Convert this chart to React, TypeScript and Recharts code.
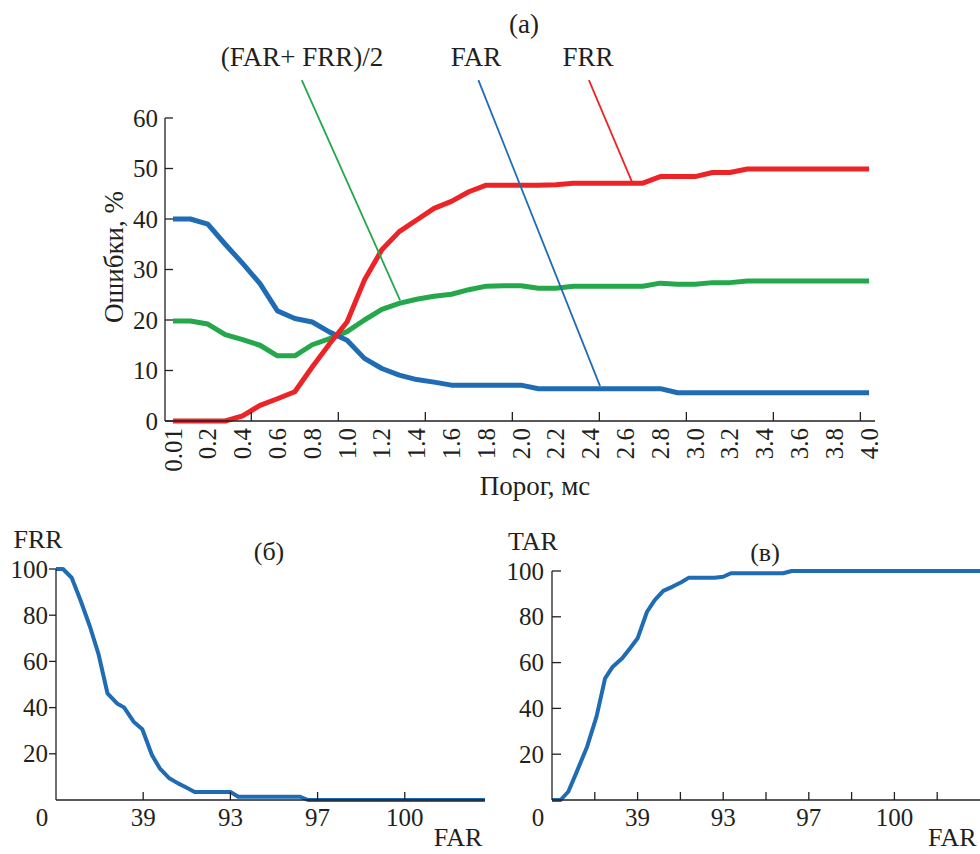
import { LineChart, Line, XAxis, YAxis, ReferenceLine } from "recharts";

// ---- (a) errors vs threshold ----
const thresholds = [
  0, 0.1, 0.2, 0.3, 0.4, 0.5, 0.6, 0.7, 0.8, 0.9, 1.0, 1.1, 1.2, 1.3, 1.4, 1.5, 1.6, 1.7, 1.8, 1.9, 2.0,
  2.1, 2.2, 2.3, 2.4, 2.5, 2.6, 2.7, 2.8, 2.9, 3.0, 3.1, 3.2, 3.3, 3.4, 3.5, 3.6, 3.7, 3.8, 3.9, 4.0,
];
const farValues = [
  40, 40, 39, 35, 31.2, 27.2, 21.8, 20.3, 19.6, 17.6, 16, 12.4, 10.4, 9.1, 8.2, 7.7, 7.1, 7.1, 7.1, 7.1, 7.1,
  6.4, 6.4, 6.4, 6.4, 6.4, 6.4, 6.4, 6.4, 5.6, 5.6, 5.6, 5.6, 5.6, 5.6, 5.6, 5.6, 5.6, 5.6, 5.6, 5.6,
];
const frrValues = [
  0, 0, 0, 0, 1.0, 3.1, 4.4, 5.8, 10.7, 15.3, 19.6, 27.9, 33.9, 37.5, 39.8, 42.1, 43.5, 45.4, 46.7, 46.7, 46.7,
  46.7, 46.8, 47.1, 47.1, 47.1, 47.1, 47.1, 48.4, 48.4, 48.4, 49.2, 49.2, 49.9, 49.9, 49.9, 49.9, 49.9, 49.9, 49.9, 49.9,
];
const halfSumValues = [
  19.8, 19.8, 19.2, 17.1, 16.1, 15, 12.9, 12.9, 15.1, 16.3, 17.7, 20, 22.1, 23.3, 24.1, 24.7, 25.1, 26, 26.7, 26.8, 26.8,
  26.3, 26.3, 26.7, 26.7, 26.7, 26.7, 26.7, 27.3, 27.1, 27.1, 27.4, 27.4, 27.7, 27.7, 27.7, 27.7, 27.7, 27.7, 27.7, 27.7,
];
const topXLabelValues = [0, 0.2, 0.4, 0.6, 0.8, 1.0, 1.2, 1.4, 1.6, 1.8, 2.0, 2.2, 2.4, 2.6, 2.8, 3.0, 3.2, 3.4, 3.6, 3.8, 4.0];
const topXLabels = ["0.01", "0.2", "0.4", "0.6", "0.8", "1.0", "1.2", "1.4", "1.6", "1.8", "2.0", "2.2", "2.4", "2.6", "2.8", "3.0", "3.2", "3.4", "3.6", "3.8", "4.0"];
const topXMarks = [0.45, 0.95, 1.45, 1.95, 2.45, 2.95, 3.45, 3.95];
const topYTicks = [0, 10, 20, 30, 40, 50, 60];

// ---- (б) FRR vs FAR, (в) TAR vs FAR ----
const rocFarPos = [0, 0.08, 0.18, 0.28, 0.39, 0.49, 0.59, 0.7, 0.78, 0.89, 0.99, 1.1, 1.19, 1.3, 1.4, 1.5, 1.59, 2.0, 2.09, 2.8, 2.89, 4.92];
const rocFrr = [100, 100, 96.2, 86.6, 75, 62.8, 46.2, 41.8, 40.1, 33.9, 30.6, 19.5, 13.7, 9.4, 7.2, 5.3, 3.5, 3.5, 1.4, 1.4, 0, 0];
const tarFarPos = [0, 0.1, 0.19, 0.29, 0.41, 0.52, 0.62, 0.71, 0.82, 0.91, 1.0, 1.11, 1.2, 1.3, 1.41, 1.51, 1.6, 1.9, 2.0, 2.09, 2.7, 2.8, 2.91, 5.0];
const tarValues = [0, 0, 3.6, 12.4, 23.3, 36.4, 53.1, 58.2, 61.9, 66.2, 70.6, 82.2, 87.3, 91.3, 93.2, 95.1, 97.1, 97.1, 97.5, 99, 99, 100, 100, 100];
const farTickPos = [0, 1, 2, 3, 4];
const farTickLabels = ["0", "39", "93", "97", "100"];
const tarMarks = [0.5, 1, 1.5, 2, 2.5, 3, 3.5, 4, 4.5];
const bottomYTicks = [20, 40, 60, 80, 100];

const RED = "#ed2427";
const GREEN = "#24a84b";
const BLUE = "#1f6cb5";
const INK = "#231f20";
const FONT = "'Liberation Serif', 'Times New Roman', serif";
const TICK_SIZE = 25;

const leaders = [
  { key: "half", color: GREEN, from: { x: 0.74, y: 67.5 }, to: { x: 1.305, y: 23.9 } },
  { key: "far", color: BLUE, from: { x: 1.755, y: 67.5 }, to: { x: 2.454, y: 6.9 } },
  { key: "frr", color: RED, from: { x: 2.39, y: 67.5 }, to: { x: 2.638, y: 47.3 } },
];

const topData = thresholds.map((t, i) => ({ t, far: farValues[i], frr: frrValues[i], half: halfSumValues[i] }));
const rocData = rocFarPos.map((f, i) => ({ f, v: rocFrr[i] }));
const tarData = tarFarPos.map((f, i) => ({ f, v: tarValues[i] }));

const near = (a: number, list: number[]) => list.findIndex((b) => Math.abs(a - b) < 1e-6);

function TopXTick({ x, y, payload }: any) {
  const li = near(payload.value, topXLabelValues);
  if (li >= 0) {
    const ty = y + 7;
    return (
      <text x={x} y={ty} transform={`rotate(-90 ${x} ${ty})`} textAnchor="end" dominantBaseline="central"
        fontFamily={FONT} fontSize={TICK_SIZE} fill={INK}>
        {topXLabels[li]}
      </text>
    );
  }
  return <line x1={x} y1={y} x2={x} y2={y - 9} stroke={INK} strokeWidth={1.3} />;
}

function TopYTick({ x, y, payload }: any) {
  return (
    <g>
      <line x1={x} y1={y} x2={x + 8} y2={y} stroke={INK} strokeWidth={1.3} />
      <text x={x - 7} y={y} textAnchor="end" dominantBaseline="central" fontFamily={FONT} fontSize={TICK_SIZE} fill={INK}>
        {payload.value}
      </text>
    </g>
  );
}

function FarTick({ x, y, payload, marks }: any) {
  const v = payload.value;
  const li = near(v, farTickPos);
  return (
    <g>
      {v > 0 && near(v, marks) >= 0 && <line x1={x} y1={y} x2={x} y2={y - 8} stroke={INK} strokeWidth={1.3} />}
      {li >= 0 && (
        <text x={li === 0 ? x - 14 : x} y={y + 26} textAnchor="middle" fontFamily={FONT} fontSize={TICK_SIZE} fill={INK}>
          {farTickLabels[li]}
        </text>
      )}
    </g>
  );
}

function BottomYTick({ x, y, payload, inward }: any) {
  return (
    <g>
      <line x1={x} y1={y} x2={inward ? x + 9 : x - 7} y2={y} stroke={INK} strokeWidth={1.3} />
      <text x={x - 8} y={y} textAnchor="end" dominantBaseline="central" fontFamily={FONT} fontSize={TICK_SIZE} fill={INK}>
        {payload.value}
      </text>
    </g>
  );
}

const axisLine = { stroke: INK, strokeWidth: 1.3 };

export default function App() {
  return (
    <div style={{ position: "absolute", left: 0, top: 0, width: 980, height: 854, background: "#fff", overflow: "hidden" }}>
      <div style={{ position: "absolute", left: 0, top: 0 }}>
        <LineChart width={980} height={500} data={topData} margin={{ top: 118, right: 105, bottom: 49, left: 105 }}>
          <XAxis type="number" dataKey="t" domain={[-0.046, 4.034]} ticks={[...topXLabelValues, ...topXMarks]}
            interval={0} tickSize={0} tickMargin={0} tickLine={false} height={30} axisLine={axisLine}
            tick={(p: any) => <TopXTick {...p} />} />
          <YAxis type="number" domain={[0, 60]} ticks={topYTicks} interval={0} width={60} tickSize={0}
            tickMargin={0} tickLine={false} axisLine={axisLine} tick={(p: any) => <TopYTick {...p} />} />
          <Line type="linear" dataKey="half" stroke={GREEN} strokeWidth={5} dot={false} isAnimationActive={false} strokeLinejoin="round" />
          <Line type="linear" dataKey="far" stroke={BLUE} strokeWidth={5} dot={false} isAnimationActive={false} strokeLinejoin="round" />
          <Line type="linear" dataKey="frr" stroke={RED} strokeWidth={5} dot={false} isAnimationActive={false} strokeLinejoin="round" />
          {leaders.map((l) => (
            <ReferenceLine key={l.key} segment={[l.from, l.to]} stroke={l.color} strokeWidth={1.8} ifOverflow="visible" />
          ))}
        </LineChart>
      </div>

      <div style={{ position: "absolute", left: 0, top: 500 }}>
        <LineChart width={490} height={354} data={rocData} margin={{ top: 69, right: 5, bottom: 24, left: 0 }}>
          <XAxis type="number" dataKey="f" domain={[0, 4.92]} ticks={farTickPos} interval={0} tickSize={0}
            tickMargin={0} tickLine={false} height={30} axisLine={axisLine}
            tick={(p: any) => <FarTick {...p} marks={farTickPos} />} />
          <YAxis type="number" domain={[0, 100]} ticks={bottomYTicks} interval={0} width={56} tickSize={0}
            tickMargin={0} tickLine={false} axisLine={axisLine} tick={(p: any) => <BottomYTick {...p} inward={false} />} />
          <Line type="linear" dataKey="v" stroke={BLUE} strokeWidth={4} dot={false} isAnimationActive={false} strokeLinejoin="round" />
        </LineChart>
      </div>

      <div style={{ position: "absolute", left: 490, top: 500 }}>
        <LineChart width={490} height={354} data={tarData} margin={{ top: 71, right: 0, bottom: 24, left: 0 }}>
          <XAxis type="number" dataKey="f" domain={[0, 5]} ticks={[...farTickPos, 0.5, 1.5, 2.5, 3.5, 4.5]} interval={0}
            tickSize={0} tickMargin={0} tickLine={false} height={30} axisLine={axisLine}
            tick={(p: any) => <FarTick {...p} marks={tarMarks} />} />
          <YAxis type="number" domain={[0, 100]} ticks={bottomYTicks} interval={0} width={62} tickSize={0}
            tickMargin={0} tickLine={false} axisLine={axisLine} tick={(p: any) => <BottomYTick {...p} inward={true} />} />
          <Line type="linear" dataKey="v" stroke={BLUE} strokeWidth={4} dot={false} isAnimationActive={false} strokeLinejoin="round" />
        </LineChart>
      </div>

      <svg width={980} height={854} style={{ position: "absolute", left: 0, top: 0, pointerEvents: "none" }}
        fontFamily={FONT} fill={INK}>
        <text x={524} y={33} fontSize={27} textAnchor="middle">(a)</text>
        <text x={302} y={66} fontSize={27} textAnchor="middle">(FAR+ FRR)/2</text>
        <text x={476} y={66} fontSize={27} textAnchor="middle">FAR</text>
        <text x={588} y={66} fontSize={27} textAnchor="middle">FRR</text>
        <text x={123} y={257} fontSize={27} textAnchor="middle" transform="rotate(-90 123 257)">Ошибки, %</text>
        <text x={535} y={495} fontSize={27} textAnchor="middle">Порог, мс</text>
        <text x={38} y={548} fontSize={26} textAnchor="middle">FRR</text>
        <text x={269} y={560} fontSize={26} textAnchor="middle">(б)</text>
        <text x={458} y={846} fontSize={26} textAnchor="middle">FAR</text>
        <text x={533} y={550} fontSize={26} textAnchor="middle">TAR</text>
        <text x={765} y={561} fontSize={26} textAnchor="middle">(в)</text>
        <text x={928} y={846} fontSize={26}>FAR</text>
      </svg>
    </div>
  );
}
